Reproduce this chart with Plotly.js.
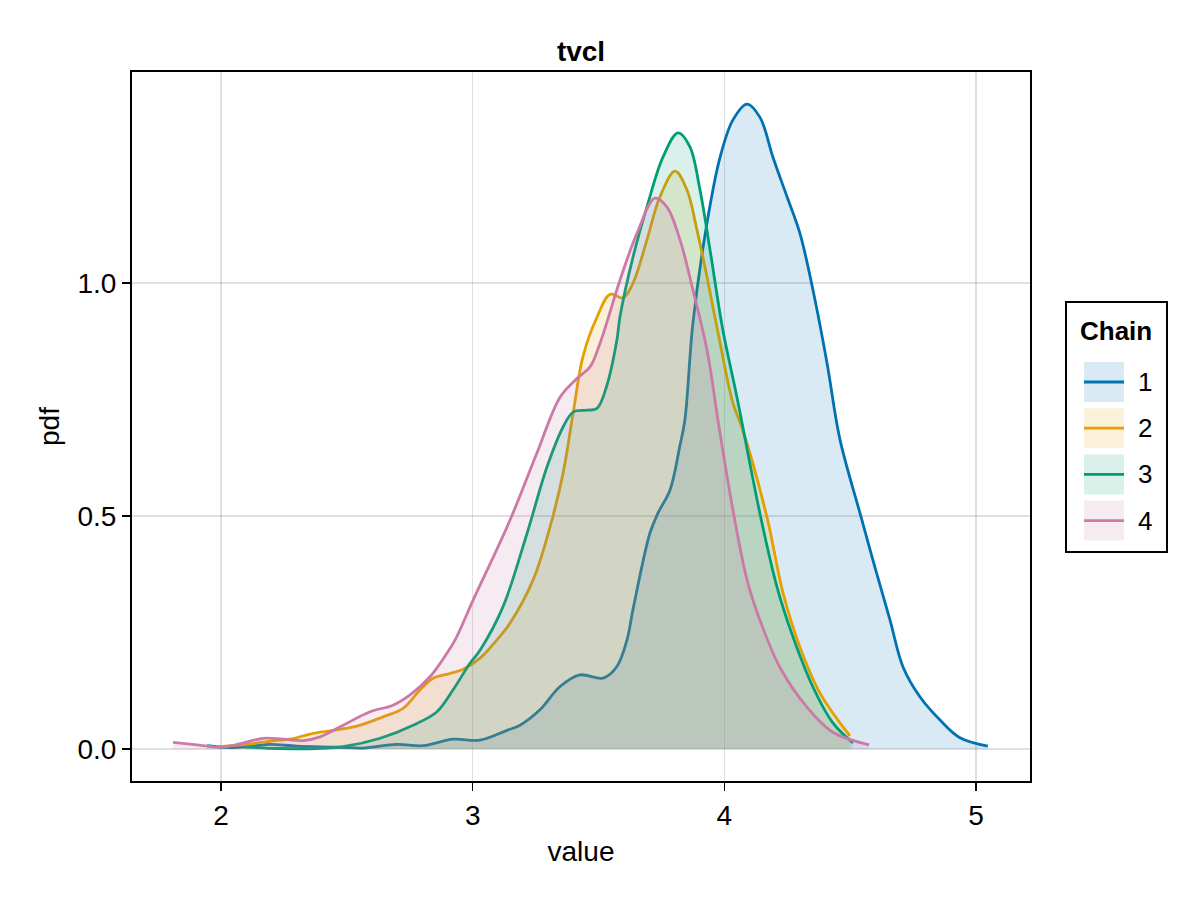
<!DOCTYPE html>
<html>
<head>
<meta charset="utf-8">
<script src="https://cdn.plot.ly/plotly-3.0.1.min.js"></script>
<style>html,body{margin:0;padding:0;background:#fff;}#chart{width:1200px;height:900px;}</style>
</head>
<body>
<div id="chart"></div>
<script>
const chainNames = ["1", "2", "3", "4"];
const chainColors = ["#0072B2", "#E69F00", "#009E73", "#CC79A7"];
const chainFills = ["rgba(0,114,178,0.15)", "rgba(230,159,0,0.15)", "rgba(0,158,115,0.15)", "rgba(204,121,167,0.15)"];
const legendTitle = "Chain";

const chain1X = [1.944, 2.036, 2.12, 2.195, 2.302, 2.461, 2.564, 2.699, 2.803, 2.922, 3.029, 3.136, 3.188, 3.267, 3.347, 3.426, 3.518, 3.573, 3.613, 3.637, 3.704, 3.736, 3.784, 3.823, 3.843, 3.875, 3.931, 3.983, 4.034, 4.090, 4.141, 4.193, 4.249, 4.300, 4.352, 4.408, 4.459, 4.539, 4.590, 4.658, 4.710, 4.777, 4.857, 4.936, 5.047];
const chain1Y = [0.007, 0.003, 0.006, 0.010, 0.006, 0.004, 0.002, 0.010, 0.007, 0.021, 0.019, 0.040, 0.051, 0.084, 0.134, 0.159, 0.152, 0.177, 0.234, 0.300, 0.463, 0.506, 0.556, 0.650, 0.706, 0.914, 1.129, 1.270, 1.350, 1.384, 1.356, 1.270, 1.185, 1.107, 0.985, 0.828, 0.665, 0.506, 0.406, 0.277, 0.176, 0.112, 0.062, 0.024, 0.006];

const chain2X = [1.98, 2.10, 2.20, 2.274, 2.354, 2.433, 2.540, 2.644, 2.723, 2.791, 2.843, 2.910, 2.962, 3.029, 3.096, 3.148, 3.240, 3.307, 3.359, 3.399, 3.438, 3.494, 3.546, 3.597, 3.637, 3.692, 3.744, 3.804, 3.851, 3.891, 3.931, 3.983, 4.034, 4.070, 4.169, 4.233, 4.300, 4.380, 4.499];
const chain2Y = [0.005, 0.010, 0.017, 0.021, 0.032, 0.039, 0.049, 0.069, 0.087, 0.127, 0.152, 0.162, 0.171, 0.195, 0.234, 0.270, 0.363, 0.476, 0.592, 0.721, 0.842, 0.927, 0.976, 0.968, 1.000, 1.092, 1.185, 1.240, 1.200, 1.114, 1.013, 0.871, 0.742, 0.690, 0.498, 0.335, 0.219, 0.120, 0.028];

const chain3X = [2.095, 2.234, 2.381, 2.485, 2.632, 2.763, 2.858, 2.922, 2.989, 3.029, 3.120, 3.216, 3.295, 3.359, 3.399, 3.454, 3.494, 3.533, 3.573, 3.585, 3.637, 3.692, 3.756, 3.816, 3.863, 3.903, 3.943, 3.994, 4.050, 4.141, 4.209, 4.273, 4.352, 4.431, 4.511];
const chain3Y = [0.004, 0.001, 0.001, 0.005, 0.023, 0.051, 0.080, 0.127, 0.184, 0.212, 0.305, 0.463, 0.605, 0.691, 0.723, 0.727, 0.731, 0.780, 0.878, 0.927, 1.056, 1.163, 1.270, 1.322, 1.292, 1.200, 1.071, 0.899, 0.755, 0.506, 0.348, 0.240, 0.133, 0.056, 0.013];

const chain4X = [1.809, 1.905, 1.996, 2.075, 2.167, 2.246, 2.326, 2.393, 2.485, 2.592, 2.683, 2.751, 2.830, 2.898, 2.930, 3.002, 3.148, 3.255, 3.347, 3.414, 3.466, 3.506, 3.585, 3.653, 3.724, 3.772, 3.824, 3.875, 3.931, 3.979, 4.034, 4.090, 4.141, 4.220, 4.328, 4.431, 4.575];
const chain4Y = [0.014, 0.009, 0.004, 0.011, 0.023, 0.021, 0.018, 0.026, 0.051, 0.080, 0.094, 0.116, 0.155, 0.206, 0.234, 0.320, 0.491, 0.635, 0.755, 0.795, 0.820, 0.871, 1.006, 1.107, 1.182, 1.163, 1.092, 0.985, 0.856, 0.690, 0.513, 0.363, 0.277, 0.176, 0.090, 0.036, 0.009];

const xTicks = [2, 3, 4, 5];
const xTickText = ["2", "3", "4", "5"];
const yTicks = [0, 0.5, 1.0];
const yTickText = ["0.0", "0.5", "1.0"];

const xs = [chain1X, chain2X, chain3X, chain4X];
const ys = [chain1Y, chain2Y, chain3Y, chain4Y];

const traces = chainNames.map((n, i) => ({
  type: "scatter",
  mode: "lines",
  x: xs[i],
  y: ys[i],
  name: n,
  fill: "tozeroy",
  fillcolor: chainFills[i],
  line: {color: chainColors[i], width: 2.8, shape: "spline", smoothing: 1.0},
  hoverinfo: "skip",
  showlegend: false
}));

const font = {family: "Liberation Sans, Arial, sans-serif", color: "#000"};
const FS = 28;

// plot-area geometry in pixels (for the custom legend placement)
const L = 132, R = 1030, T = 72, B = 781;
const px2x = p => (p - L) / (R - L);
const px2y = p => (B - p) / (B - T);

const shapes = [];
const annotations = [];
shapes.push({type: "rect", xref: "paper", yref: "paper",
  x0: px2x(1066), x1: px2x(1167), y0: px2y(552), y1: px2y(302),
  line: {color: "#000", width: 2}, fillcolor: "#fff", layer: "above"});
annotations.push({xref: "paper", yref: "paper", x: px2x(1116), y: px2y(331),
  text: "<b>" + legendTitle + "</b>", showarrow: false, xanchor: "center", yanchor: "middle",
  font: Object.assign({size: 26}, font)});
chainNames.forEach((n, i) => {
  const cy = 382 + i * 46.2;
  shapes.push({type: "rect", xref: "paper", yref: "paper",
    x0: px2x(1084), x1: px2x(1124), y0: px2y(cy + 20), y1: px2y(cy - 20),
    line: {width: 0}, fillcolor: chainFills[i], layer: "above"});
  shapes.push({type: "line", xref: "paper", yref: "paper",
    x0: px2x(1084), x1: px2x(1124), y0: px2y(cy), y1: px2y(cy),
    line: {color: chainColors[i], width: 2.8}, layer: "above"});
  annotations.push({xref: "paper", yref: "paper", x: px2x(1136), y: px2y(cy),
    text: n, showarrow: false, xanchor: "left", yanchor: "middle",
    font: Object.assign({size: 26}, font)});
});

const layout = {
  width: 1200,
  height: 900,
  paper_bgcolor: "#fff",
  plot_bgcolor: "#fff",
  margin: {l: L, r: 1200 - R, t: T, b: 900 - B},
  font: Object.assign({size: FS}, font),
  title: {
    text: "<b>tvcl</b>",
    font: Object.assign({size: FS}, font),
    x: 0.5, xref: "paper", xanchor: "center",
    y: 1 - 51/900, yref: "container", yanchor: "middle"
  },
  xaxis: {
    range: [1.646, 5.2145],
    tickvals: xTicks,
    ticktext: xTickText,
    ticks: "outside",
    ticklen: 8,
    tickwidth: 1.5,
    tickcolor: "#000",
    showline: true,
    mirror: true,
    linecolor: "#000",
    linewidth: 2,
    showgrid: true,
    gridcolor: "rgba(0,0,0,0.12)",
    gridwidth: 1.5,
    zeroline: false,
    tickfont: Object.assign({size: 28}, font),
    title: {text: "value", font: Object.assign({size: FS}, font), standoff: 12}
  },
  yaxis: {
    range: [-0.0687, 1.4528],
    tickvals: yTicks,
    ticktext: yTickText,
    ticks: "outside",
    ticklen: 8,
    tickwidth: 1.5,
    tickcolor: "#000",
    showline: true,
    mirror: true,
    linecolor: "#000",
    linewidth: 2,
    showgrid: true,
    gridcolor: "rgba(0,0,0,0.12)",
    gridwidth: 1.5,
    zeroline: false,
    tickfont: Object.assign({size: 28}, font),
    title: {text: "pdf", font: Object.assign({size: FS}, font), standoff: 10}
  },
  showlegend: false,
  shapes: shapes,
  annotations: annotations
};

Plotly.newPlot("chart", traces, layout, {displayModeBar: false, staticPlot: true});
</script>
</body>
</html>
